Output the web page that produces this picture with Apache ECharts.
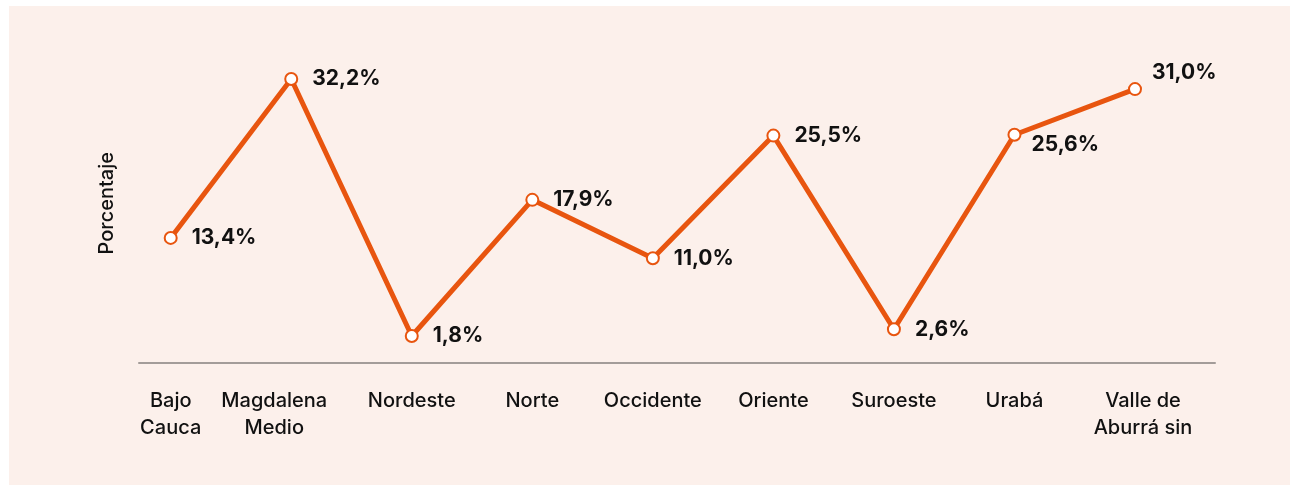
<!DOCTYPE html>
<html>
<head>
<meta charset="utf-8">
<script src="https://cdn.jsdelivr.net/npm/echarts@6/dist/echarts.min.js"></script>
<style>
  html, body { margin: 0; padding: 0; background: #ffffff; }
  #chart { width: 1290px; height: 485px; }
</style>
</head>
<body>
<div id="chart"></div>
<script>
// datos
var regiones = ['Bajo\nCauca', 'Magdalena\nMedio', 'Nordeste', 'Norte', 'Occidente', 'Oriente', 'Suroeste', 'Urabá', 'Valle de\nAburrá sin'];
var porcentajes = [13.4, 32.2, 1.8, 17.9, 11.0, 25.5, 2.6, 25.6, 31.0];

var naranja = '#e8550f';
var fuente = 'Inter, "Noto Sans", sans-serif';

var chart = echarts.init(document.getElementById('chart'));

var puntos = porcentajes.map(function (v, i) {
  var item = { value: v };
  if (i === 7) item.label = { offset: [-4, 10] };
  if (i === 8) item.label = { offset: [-4, -16] };
  return item;
});

// algunas etiquetas del eje no van centradas en el punto
var categorias = regiones.map(function (r, i) {
  var item = { value: r };
  if (i === 1) item.textStyle = { padding: [0, 34, 0, 0] };
  if (i === 8) item.textStyle = { padding: [0, 0, 0, 16] };
  return item;
});

var option = {
  backgroundColor: 'transparent',
  animation: false,
  graphic: [{
    type: 'rect',
    z: -10,
    shape: { x: 9, y: 6, width: 1290, height: 485 },
    style: { fill: '#fcf0eb' }
  }],
  grid: [
    { left: 170.7, right: 155, top: 55.3, bottom: 133.8 },
    { left: 139, right: 75, top: 100, bottom: 122 }
  ],
  xAxis: [{
    type: 'category',
    gridIndex: 0,
    data: categorias,
    boundaryGap: false,
    axisLine: { show: false },
    axisTick: { show: false },
    axisLabel: {
      interval: 0,
      color: '#111111',
      fontFamily: fuente,
      fontSize: 20,
      fontWeight: 500,
      lineHeight: 27,
      margin: 36
    }
  }, {
    type: 'value',
    gridIndex: 1,
    min: 0,
    max: 1,
    axisLine: { show: true, lineStyle: { color: '#a39c99', width: 2 } },
    axisTick: { show: false },
    axisLabel: { show: false },
    splitLine: { show: false }
  }],
  yAxis: [{
    type: 'value',
    gridIndex: 0,
    min: 0,
    max: 35,
    name: 'Porcentaje',
    nameLocation: 'middle',
    nameGap: 54,
    nameTextStyle: { color: '#111111', fontFamily: fuente, fontSize: 20, fontWeight: 500 },
    axisLine: { show: false },
    axisTick: { show: false },
    axisLabel: { show: false },
    splitLine: { show: false }
  }, {
    type: 'value',
    gridIndex: 1,
    show: false
  }],
  series: [{
    type: 'line',
    xAxisIndex: 0,
    yAxisIndex: 0,
    data: puntos,
    symbol: 'circle',
    symbolSize: 12,
    lineStyle: { color: naranja, width: 5 },
    itemStyle: { color: '#ffffff', borderColor: naranja, borderWidth: 2 },
    label: {
      show: true,
      position: 'right',
      distance: 14,
      color: '#111111',
      fontFamily: fuente,
      fontWeight: 'bold',
      fontSize: 21,
      formatter: function (p) {
        return p.value.toFixed(1).replace('.', ',') + '%';
      }
    }
  }]
};

chart.setOption(option);
</script>
</body>
</html>
